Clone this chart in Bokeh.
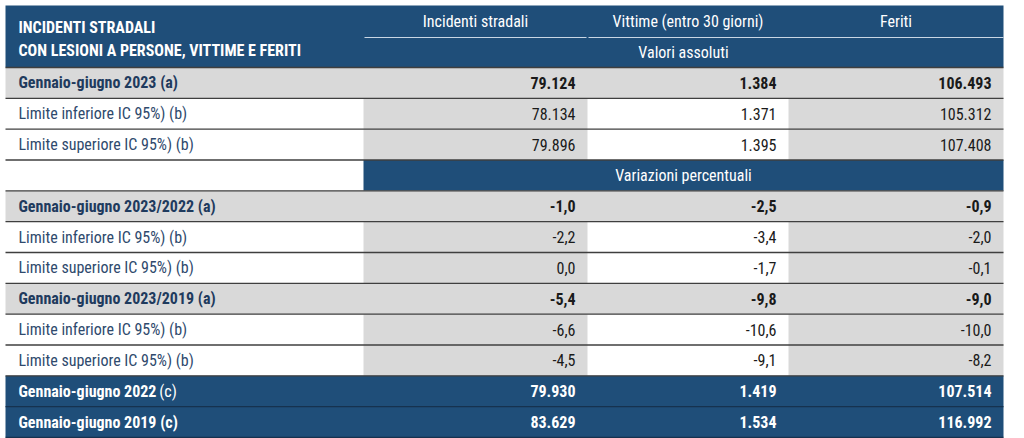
from bokeh.plotting import figure
from bokeh.models import ColumnDataSource, Range1d
from bokeh.core.properties import value
from bokeh.embed import file_html
from bokeh.resources import INLINE

# ---------------- data ----------------
title_lines = ["INCIDENTI STRADALI", "CON LESIONI A PERSONE, VITTIME E FERITI"]
columns = ["Incidenti stradali", "Vittime (entro 30 giorni)", "Feriti"]
sections = ["Valori assoluti", "Variazioni percentuali"]

abs_labels = ["Gennaio-giugno 2023 (a)", "Limite inferiore IC 95%) (b)", "Limite superiore IC 95%) (b)"]
abs_incidenti = [79124, 78134, 79896]
abs_vittime = [1384, 1371, 1395]
abs_feriti = [106493, 105312, 107408]

var_labels = ["Gennaio-giugno 2023/2022 (a)", "Limite inferiore IC 95%) (b)", "Limite superiore IC 95%) (b)",
              "Gennaio-giugno 2023/2019 (a)", "Limite inferiore IC 95%) (b)", "Limite superiore IC 95%) (b)"]
var_incidenti = [-1.0, -2.2, 0.0, -5.4, -6.6, -4.5]
var_vittime = [-2.5, -3.4, -1.7, -9.8, -10.6, -9.1]
var_feriti = [-0.9, -2.0, -0.1, -9.0, -10.0, -8.2]

ref_labels = ["Gennaio-giugno 2022", "Gennaio-giugno 2019 (c)"]
ref_notes = ["(c)", ""]
ref_incidenti = [79930, 83629]
ref_vittime = [1419, 1534]
ref_feriti = [107514, 116992]

# ---------------- style ----------------
FONT = "Roboto Condensed, DejaVu Sans Condensed, Liberation Sans"
BLUE = "#1f4e79"
GREY = "#d9d9d9"
LINE = "#3f3f3f"
LABEL_BOLD = "#1f3b5e"
LABEL_NORM = "#2f4a6d"
NUM = "#1a1a1a"
FS = "16px"

X0, X1, X2, X3, X4 = 5, 363, 587, 788, 1003
COL_L = [X1, X2, X3]
COL_R = [X2, X3, X4]
HEAD_TOP, HEAD_MID, BODY_TOP, BOTTOM = 5, 37, 67, 437


def fmt_int(v):
    return f"{v:,}".replace(",", ".")


def fmt_dec(v):
    return f"{v:.1f}".replace(".", ",")


rows = []
for i, lab in enumerate(abs_labels):
    rows.append(("bold" if i == 0 else "limit", lab, "",
                 [fmt_int(abs_incidenti[i]), fmt_int(abs_vittime[i]), fmt_int(abs_feriti[i])]))
rows.append(("section", sections[1], "", None))
for i, lab in enumerate(var_labels):
    rows.append(("bold" if i % 3 == 0 else "limit", lab, "",
                 [fmt_dec(var_incidenti[i]), fmt_dec(var_vittime[i]), fmt_dec(var_feriti[i])]))
for i, lab in enumerate(ref_labels):
    rows.append(("total", lab, ref_notes[i],
                 [fmt_int(ref_incidenti[i]), fmt_int(ref_vittime[i]), fmt_int(ref_feriti[i])]))

n = len(rows)
rh = (BOTTOM - BODY_TOP) / n

p = figure(width=1008, height=438, output_backend="svg", toolbar_location=None,
           x_range=Range1d(0, 1008), y_range=Range1d(438, 0),
           min_border=0, outline_line_color=None)
p.axis.visible = False
p.grid.visible = False
p.background_fill_color = "white"
p.border_fill_color = "white"

qL, qR, qT, qB, qC = [], [], [], [], []


def cell(l, r, t, b, c):
    qL.append(l); qR.append(r); qT.append(t); qB.append(b); qC.append(c)


cell(X0, X4, HEAD_TOP, BODY_TOP, BLUE)

t_x, t_y, t_txt, t_col, t_align, t_style = [], [], [], [], [], []


def txt(x, y, s, c, align, style):
    t_x.append(x); t_y.append(y); t_txt.append(s); t_col.append(c); t_align.append(align); t_style.append(style)


txt(18, 27, title_lines[0], "white", "left", "bold")
txt(18, 50, title_lines[1], "white", "left", "bold")
for j, c in enumerate(columns):
    txt((COL_L[j] + COL_R[j]) / 2, 21, c, "white", "center", "normal")
txt((X1 + X4) / 2, 52, sections[0], "white", "center", "normal")

hl_x0, hl_x1, hl_y, hl_c = [], [], [], []
hl_x0.append(X0); hl_x1.append(X4); hl_y.append(BODY_TOP); hl_c.append(LINE)

for i, (kind, lab, note, vals) in enumerate(rows):
    top = BODY_TOP + i * rh
    bot = top + rh
    yc = top + rh / 2
    if kind == "bold":
        cell(X0, X4, top, bot, GREY)
    elif kind == "limit":
        cell(X1, X2, top, bot, GREY)
        cell(X3, X4, top, bot, GREY)
    elif kind == "section":
        cell(X1, X4, top, bot, BLUE)
    elif kind == "total":
        cell(X0, X4, top, bot, BLUE)

    if kind == "section":
        txt((X1 + X4) / 2, yc, lab, "white", "center", "normal")
    else:
        if kind == "total":
            lc, nc, st = "white", "white", "bold"
        elif kind == "bold":
            lc, nc, st = LABEL_BOLD, NUM, "bold"
        else:
            lc, nc, st = LABEL_NORM, NUM, "normal"
        txt(18, yc, lab, lc, "left", st)
        if note:
            txt(18 + 7.2 * len(lab) + 4, yc, note, lc, "left", "normal")
        for j, v in enumerate(vals):
            txt(COL_R[j] - 12, yc, v, nc, "right", st)

    hl_x0.append(X0); hl_x1.append(X4); hl_y.append(bot)
    hl_c.append("#16324f" if kind == "total" else LINE)

p.quad(left=qL, right=qR, top=qT, bottom=qB, fill_color=qC, line_color=None)

p.segment(x0=[X1 + 1, X2 + 1], x1=[X2 - 1, X4], y0=[HEAD_MID, HEAD_MID], y1=[HEAD_MID, HEAD_MID],
          line_color="#c9d6e4", line_width=1)

p.segment(x0=hl_x0, x1=hl_x1, y0=hl_y, y1=hl_y, line_color=hl_c, line_width=1.3)

src = ColumnDataSource(dict(x=t_x, y=t_y, text=t_txt, color=t_col, align=t_align, style=t_style))
p.text(x="x", y="y", text="text", text_color="color", text_align="align", text_font_style="style",
       text_baseline="middle", text_font=value(FONT), text_font_size=FS, source=src)

open("out.html", "w").write(file_html(p, INLINE))
